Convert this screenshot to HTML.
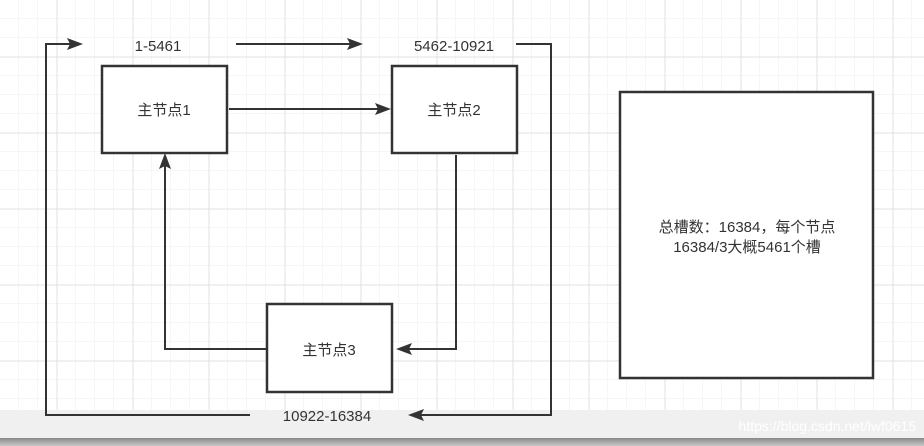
<!DOCTYPE html>
<html><head><meta charset="utf-8"><style>
body{margin:0;width:924px;height:446px;overflow:hidden;background:#fff;font-family:"Liberation Sans","Noto Sans CJK SC",sans-serif;}
</style></head><body>
<svg width="924" height="446" xmlns="http://www.w3.org/2000/svg" style="position:absolute;left:0;top:0">
<defs>
<pattern id="g" width="19" height="19" patternUnits="userSpaceOnUse" x="0" y="0">
<path d="M19 0V19M0 19H19" stroke="#ececec" stroke-width="1" fill="none"/>
</pattern>
<pattern id="G" width="76" height="76" patternUnits="userSpaceOnUse" x="0" y="0">
<path d="M57 0V76M0 57H76" stroke="#e0e0e0" stroke-width="1" fill="none"/>
</pattern>
<marker id="a" markerWidth="10" markerHeight="10" refX="9" refY="5" orient="auto" markerUnits="userSpaceOnUse"><path d="M0,0 L10,5 L0,10 L3,5 Z" fill="#333" transform="scale(1.4) translate(-3,-1.4)"/></marker>
<linearGradient id="bb" x1="0" y1="0" x2="0" y2="1"><stop offset="0" stop-color="#888"/><stop offset="1" stop-color="#c8c8c8"/></linearGradient>
</defs>
<rect width="924" height="410" fill="url(#g)"/>
<rect width="924" height="410" fill="url(#G)"/>
<rect y="410" width="924" height="28" fill="#f0f0f0"/>
<rect y="438" width="924" height="8" fill="url(#bb)"/>
<g stroke="#333" stroke-width="2.5" fill="none">
<rect x="102" y="66" width="125" height="87" fill="#fff"/>
<rect x="392" y="66" width="125" height="87" fill="#fff"/>
<rect x="267" y="304" width="125" height="88" fill="#fff"/>
<rect x="620" y="92" width="253" height="286" fill="#fff"/>
</g>
<g stroke="#333" stroke-width="2" fill="none">
<path d="M229 109H382"/>
<path d="M236 44H354"/>
<path d="M516 44H551V415H418"/>
<path d="M250 415H46V44H74"/>
<path d="M456 155V349H405"/>
<path d="M266 349H165V162"/>
</g>
<g fill="#333">
<path d="M391 109 L375 103 L378 109 L375 115Z"/>
<path d="M363 44 L347 38 L350 44 L347 50Z"/>
<path d="M83 44 L67 38 L70 44 L67 50Z"/>
<path d="M408 415 L424 409 L421 415 L424 421Z"/>
<path d="M396 349 L412 343 L409 349 L412 355Z"/>
<path d="M165 153 L159 169 L165 166 L171 169Z"/>
</g>
<g font-size="15" fill="#333" text-anchor="middle" font-family="Liberation Sans,Noto Sans CJK SC,sans-serif">
<text x="158" y="51">1-5461</text>
<text x="454" y="51">5462-10921</text>
<text x="327" y="421">10922-16384</text>
<text x="164" y="115">主节点1</text>
<text x="454" y="115">主节点2</text>
<text x="329" y="355">主节点3</text>
<text x="747" y="232">总槽数：16384，每个节点</text>
<text x="747" y="252">16384/3大概5461个槽</text>
</g>
<text x="916" y="431" font-size="14" fill="#fff" text-anchor="end" font-family="Liberation Sans,sans-serif">https://blog.csdn.net/lwf0615</text>
</svg>
</body></html>
